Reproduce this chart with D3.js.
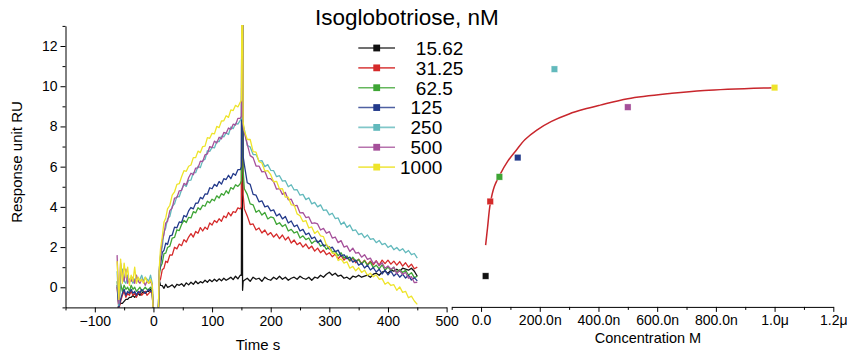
<!DOCTYPE html>
<html><head><meta charset="utf-8">
<script src="https://cdn.jsdelivr.net/npm/d3@7"></script>
<style>
body{margin:0;background:#fff}
text{font-family:"Liberation Sans",Arial,Helvetica,sans-serif;fill:#000}
</style>
</head><body>
<svg id="chart" width="850" height="356"></svg>
<script>
// ---------- DATA ----------
const timeS = [
-62,-59,-56,-53,-50,-47,-44,-41,-38,-35,-32,-29,-26,-23,-20,-17,-14,-11,-8,-5,-2,
0,4,8,
10,12,15,18,21,24,28,32,36,40,44,48,52,56,60,64,68,72,76,80,84,88,92,96,100,104,108,112,116,120,124,128,132,136,140,144,148,
150,151,152,153,
155,160,165,170,175,180,185,190,195,200,205,210,215,220,225,230,235,240,245,250,255,260,265,270,275,280,285,290,295,300,
305,310,315,320,325,330,335,340,345,350,355,360,365,370,375,380,385,390,395,400,405,410,415,420,425,430,435,440,445,450];

const resp15_62 = [
-1.1,-0.9,-0.8,-0.8,-0.7,-0.6,-0.6,-0.5,-0.5,-0.4,-0.5,-0.4,-0.3,-0.4,-0.3,-0.2,-0.3,-0.2,-0.2,-0.1,-0.2,
-1.6,-1.6,-1.6,
0.35,0.1,0.08,-0.05,0.15,0.0,0.05,0.12,-0.02,0.15,0.1,0.18,0.05,0.22,0.12,0.25,0.15,0.3,0.18,0.28,0.22,0.35,0.25,0.38,0.28,0.4,0.3,0.42,0.32,0.45,0.35,0.42,0.5,0.38,0.55,0.42,0.6,
0.6,16,-0.15,0.3,
0.35,0.45,0.3,0.5,0.4,0.45,0.3,0.5,0.4,0.35,0.5,0.4,0.55,0.4,0.5,0.35,0.45,0.5,0.4,0.55,0.45,0.4,0.5,0.35,0.5,0.45,0.6,0.5,0.65,0.75,
0.6,0.7,0.55,0.6,0.45,0.5,0.4,0.55,0.5,0.6,0.5,0.55,0.6,0.5,0.65,0.7,0.6,0.75,0.8,0.7,0.85,0.8,0.9,0.8,0.95,0.9,0.85,0.95,0.8,0.55];

const resp31_25 = [
0.0,-1.1,-0.7,-0.4,-0.2,-0.5,-0.3,-0.4,-0.2,-0.4,-0.3,-0.5,-0.3,-0.2,-0.4,-0.3,-0.2,-0.4,-0.3,-0.2,-0.3,
-1.6,-1.6,-1.6,
0.3,0.4,0.87,0.95,1.3,1.23,1.61,1.6,1.99,1.91,2.15,2.07,2.37,2.25,2.5,2.67,2.5,2.78,2.69,2.97,2.8,2.99,2.88,3.2,3.1,3.32,3.22,3.41,3.28,3.55,3.46,3.72,3.55,3.76,3.72,3.95,3.9,
4.0,16,16,4.6,
3.9,3.55,3.12,3.15,2.85,2.95,2.7,2.85,2.6,2.72,2.5,2.65,2.42,2.6,2.35,2.5,2.2,2.35,2.12,2.22,2.0,2.15,1.92,2.05,1.8,1.95,1.72,1.85,1.62,1.72,
1.52,1.65,1.42,1.58,1.35,1.5,1.3,1.45,1.22,1.4,1.18,1.35,1.12,1.3,1.12,1.32,1.1,1.35,1.18,1.35,1.15,1.3,1.1,1.28,1.05,1.22,1.0,1.15,0.92,1.0];

const resp62_5 = [
0.3,-0.9,0.2,-0.2,0.1,-0.1,0.0,-0.2,0.1,-0.1,0.0,-0.2,-0.1,0.0,-0.2,-0.1,0.0,-0.1,-0.1,0.0,-0.1,
-1.6,-1.6,-1.6,
0.6,1.0,1.2,1.68,1.7,1.98,2.05,2.45,2.48,2.86,2.82,3.12,3.33,3.22,3.48,3.45,3.76,3.7,3.96,3.86,4.08,4.03,4.28,4.2,4.38,4.3,4.55,4.44,4.66,4.58,4.8,4.66,4.96,4.88,5.1,5.02,5.15,
5.3,16,16,5.8,
4.9,4.62,4.15,4.1,3.73,3.83,3.59,3.72,3.4,3.5,3.45,3.13,3.21,3.02,3.12,2.8,2.88,2.7,2.77,2.45,2.56,2.37,2.45,2.18,2.3,2.3,2.05,2.13,1.89,2.02,
1.75,1.8,1.57,1.72,1.45,1.56,1.33,1.5,1.3,1.38,1.15,1.32,1.09,1.25,0.98,1.1,0.92,1.12,0.85,1.01,0.85,1.0,0.73,0.88,0.74,0.85,0.6,0.73,0.48,0.55];

const resp125 = [
0.1,-1.0,-0.6,-0.3,-0.1,-0.4,-0.2,-0.3,-0.1,-0.3,-0.2,-0.4,-0.2,-0.3,-0.1,-0.2,-0.3,-0.2,-0.1,-0.2,-0.2,
-1.6,-1.6,-1.6,
0.8,1.1,1.72,1.85,2.2,2.13,2.56,2.6,2.99,2.96,3.25,3.22,3.57,3.5,3.8,3.97,3.9,4.18,4.19,4.47,4.4,4.64,4.63,4.95,4.9,5.12,5.02,5.26,5.13,5.4,5.36,5.57,5.4,5.66,5.57,5.85,5.85,
6.0,16,16,6.5,
6.1,5.2,5.12,4.62,4.58,4.25,4.3,4.0,4.05,3.8,3.85,3.55,3.65,3.4,3.52,3.2,3.3,3.02,3.1,2.8,2.88,2.62,2.7,2.42,2.5,2.22,2.35,2.05,2.12,1.9,
2.0,1.76,1.85,1.55,1.62,1.42,1.5,1.25,1.35,1.1,1.2,0.96,1.1,0.86,0.98,0.76,0.9,0.66,0.85,0.62,0.8,0.56,0.7,0.5,0.65,0.46,0.6,0.36,0.48,0.32];

const resp250 = [
0.8,-0.9,0.5,0.9,0.3,0.2,0.6,0.3,0.5,0.2,0.4,0.5,0.3,0.4,0.6,0.3,0.5,0.4,0.3,0.6,0.2,
-1.6,-1.6,-1.6,
0.9,1.6,2.0,2.75,2.95,3.4,3.53,4.03,4.15,4.52,4.5,4.85,5.1,5.02,5.32,5.33,5.7,5.7,6.02,5.95,6.3,6.37,6.79,6.76,6.96,6.93,7.25,7.24,7.52,7.48,7.68,7.6,7.97,7.89,8.15,8.12,8.3,
8.4,16,16,8.1,
7.85,7.05,6.98,6.6,6.6,6.28,6.3,6.0,6.1,5.82,5.8,5.5,5.55,5.28,5.3,5.0,5.1,4.84,4.85,4.58,4.62,4.36,4.45,4.15,4.22,4.0,4.1,3.82,3.85,3.6,
3.68,3.42,3.45,3.12,3.25,2.98,3.1,2.82,2.85,2.62,2.68,2.47,2.6,2.38,2.42,2.22,2.33,2.12,2.18,1.98,2.08,1.87,1.98,1.82,1.92,1.72,1.83,1.62,1.68,1.45];

const resp500 = [
1.6,-0.8,1.2,0.6,0.3,0.9,0.2,0.4,0.3,0.5,0.2,0.6,0.3,0.2,0.4,0.3,0.1,0.3,0.2,0.3,0.1,
-1.6,-1.6,-1.6,
0.9,1.5,2.32,2.65,3.2,3.28,3.81,3.95,4.44,4.46,4.8,4.82,5.17,5.1,5.45,5.67,5.6,5.93,5.94,6.27,6.25,6.59,6.63,7.0,6.95,7.27,7.17,7.46,7.38,7.7,7.66,7.92,7.85,8.11,8.07,8.4,8.4,
8.5,16,16,8.0,
7.7,7.12,6.55,6.45,6.03,6.03,5.74,5.77,5.4,5.4,5.25,4.88,4.91,4.62,4.72,4.35,4.38,4.05,4.07,3.7,3.71,3.47,3.5,3.18,3.2,3.15,2.85,2.93,2.69,2.77,
2.45,2.5,2.22,2.32,2.0,2.06,1.78,1.95,1.7,1.73,1.5,1.62,1.39,1.45,1.18,1.3,1.07,1.22,0.95,1.06,0.9,1.0,0.68,0.83,0.64,0.75,0.45,0.53,0.23,0.25];

const resp1000 = [
1.3,-0.6,1.4,0.2,1.2,0.5,1.0,0.1,0.6,0.3,1.0,0.2,0.5,0.3,0.4,0.2,0.5,0.3,0.2,0.4,0.1,
-1.6,-1.6,-1.6,
1.0,1.9,2.5,3.25,3.45,3.9,4.08,4.58,4.75,5.12,5.15,5.5,5.8,5.77,6.02,6.08,6.45,6.45,6.77,6.7,7.0,7.02,7.44,7.41,7.66,7.63,8.0,7.94,8.27,8.28,8.53,8.45,8.82,8.79,9.05,8.97,9.2,
9.3,16,16,8.2,
7.8,7.35,7.35,6.75,6.72,6.25,6.18,5.78,5.8,5.6,5.25,5.27,4.89,4.9,4.48,4.48,4.1,4.09,3.65,3.56,3.27,3.32,2.95,3.0,2.68,2.8,2.56,2.52,2.1,1.98,
1.69,1.7,1.33,1.41,1.2,1.27,0.95,1.04,0.82,0.97,0.74,0.85,0.6,0.7,0.52,0.62,0.4,0.43,0.15,0.25,0.09,0.13,-0.15,0.02,-0.25,-0.2,-0.52,-0.44,-0.68,-0.85];

const legendLabels = ["   15.62", "   31.25", "   62.5", "  125", "  250", "  500", "1000"];
const seriesColors = ["#111111", "#d52a2a", "#3ea535", "#233a8b", "#62b9bc", "#a5509a", "#eee42a"];

// steady-state response vs concentration (nM)
const concNM = [15.62, 31.25, 62.5, 125, 250, 500, 1000];
const plateauRU = [0.56, 4.27, 5.49, 6.45, 10.85, 8.96, 9.93];

// fitted curve
const fitConcNM = [15.62, 22, 31.25, 45, 65, 90, 120, 150, 190, 240, 300, 350, 406, 500, 650, 760, 1000];
const fitRU     = [2.1, 2.95, 4.15, 5.0, 5.62, 6.25, 6.82, 7.35, 7.82, 8.25, 8.62, 8.85, 9.06, 9.38, 9.65, 9.79, 9.93];

const timeTicks = [-100, 0, 100, 200, 300, 400, 500];
const timeMinor = [-150, -50, 50, 150, 250, 350, 450];
const respTicks = [0, 2, 4, 6, 8, 10, 12];
const respMinor = [-1, 1, 3, 5, 7, 9, 11, 13];
const concTicks = [0, 200, 400, 600, 800, 1000, 1200];
const concTickLabels = ["0.0", "200.0n", "400.0n", "600.0n", "800.0n", "1.0\u03bc", "1.2\u03bc"];
const concMinor = [-100, 100, 300, 500, 700, 900, 1100];

// ---------- DRAW ----------
const svg = d3.select("#chart");
const series = [resp15_62, resp31_25, resp62_5, resp125, resp250, resp500, resp1000];

const x = d3.scaleLinear().domain([-150, 500]).range([65.5, 446.6]);
const y = d3.scaleLinear().domain([-1, 13]).range([307.4, 25.9]);
const xc = d3.scaleLinear().domain([-100, 1200]).range([451.7, 833.3]);

svg.append("defs").append("clipPath").attr("id", "clipL")
  .append("rect").attr("x", x(-150)).attr("y", y(13) - 1)
  .attr("width", x(500) - x(-150)).attr("height", y(-1) - y(13) + 1);

const line = d3.line().x((d, i) => x(timeS[i])).y(d => y(d));
const gL = svg.append("g").attr("clip-path", "url(#clipL)");
series.forEach((vals, k) => {
  gL.append("path").datum(vals)
    .attr("d", line)
    .attr("fill", "none")
    .attr("stroke", seriesColors[k])
    .attr("stroke-width", 1.3)
    .attr("stroke-linejoin", "round");
});

function styleAxis(g) {
  g.selectAll("path,line").attr("stroke", "#000").attr("stroke-width", 1);
  g.selectAll("text").attr("font-size", 14).attr("font-family", '"Liberation Sans",Arial,sans-serif');
}

// left x axis
const axY = y(-1);
svg.append("g").attr("transform", `translate(0,${axY})`)
  .call(d3.axisBottom(x).tickValues(timeTicks).tickSize(5).tickSizeOuter(0).tickPadding(4))
  .call(styleAxis);
svg.append("g").attr("transform", `translate(0,${axY})`)
  .call(d3.axisBottom(x).tickValues(timeMinor).tickSize(3).tickSizeOuter(0).tickFormat(""))
  .call(g => g.select(".domain").remove()).call(styleAxis);

// left y axis
svg.append("g").attr("transform", `translate(${x(-150)},0)`)
  .call(d3.axisLeft(y).tickValues(respTicks).tickSize(5).tickSizeOuter(0).tickPadding(3))
  .call(styleAxis);
svg.append("g").attr("transform", `translate(${x(-150)},0)`)
  .call(d3.axisLeft(y).tickValues(respMinor).tickSize(3).tickSizeOuter(0).tickFormat(""))
  .call(g => g.select(".domain").remove()).call(styleAxis);

// right x axis
const axY2 = 306.9;
svg.append("g").attr("transform", `translate(0,${axY2})`)
  .call(d3.axisBottom(xc).tickValues(concTicks).tickSize(5).tickSizeOuter(0).tickPadding(3)
        .tickFormat((d, i) => concTickLabels[i]))
  .call(styleAxis);
svg.append("g").attr("transform", `translate(0,${axY2})`)
  .call(d3.axisBottom(xc).tickValues(concMinor).tickSize(3).tickSizeOuter(0).tickFormat(""))
  .call(g => g.select(".domain").remove()).call(styleAxis);

// fitted curve
const fitLine = d3.line().x((d, i) => xc(fitConcNM[i])).y(d => y(d)).curve(d3.curveCatmullRom.alpha(0.5));
svg.append("path").datum(fitRU).attr("d", fitLine)
  .attr("fill", "none").attr("stroke", "#c8262c").attr("stroke-width", 1.5);

// scatter points
svg.append("g").selectAll("rect").data(plateauRU).join("rect")
  .attr("x", (d, i) => xc(concNM[i]) - 3.2)
  .attr("y", d => y(d) - 3.2)
  .attr("width", 6.4).attr("height", 6.4)
  .attr("fill", (d, i) => seriesColors[i])
  .attr("stroke", "#fff").attr("stroke-opacity", 0.5).attr("stroke-width", 0.6);

// titles
svg.append("text").attr("x", 315).attr("y", 25).attr("font-size", 22.5)
  .text("Isoglobotriose, nM");
svg.append("text").attr("x", 258).attr("y", 350).attr("text-anchor", "middle").attr("font-size", 15)
  .text("Time s");
svg.append("text").attr("x", 648).attr("y", 343).attr("text-anchor", "middle").attr("font-size", 14.5)
  .text("Concentration M");
svg.append("text").attr("transform", "translate(22,162) rotate(-90)")
  .attr("text-anchor", "middle").attr("font-size", 15)
  .text("Response unit RU");

// legend
const leg = svg.append("g");
legendLabels.forEach((lab, i) => {
  const cy = 48 + i * 19.85;
  leg.append("line").attr("x1", 358.3).attr("x2", 395).attr("y1", cy).attr("y2", cy)
    .attr("stroke", seriesColors[i]).attr("stroke-width", 1.6).attr("stroke-opacity", 0.8);
  leg.append("rect").attr("x", 376.7 - 3.4).attr("y", cy - 3.4).attr("width", 6.8).attr("height", 6.8)
    .attr("fill", seriesColors[i]);
  leg.append("text").attr("x", 400).attr("y", cy + 6.8).attr("font-size", 19)
    .style("white-space", "pre").text(lab);
});
</script>
</body></html>
